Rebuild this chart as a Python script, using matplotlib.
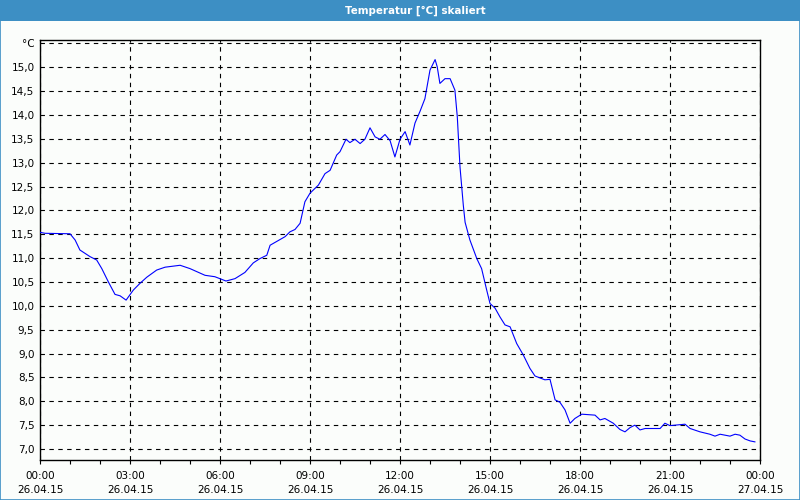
import numpy as np
import matplotlib
matplotlib.use("Agg")
import matplotlib.pyplot as plt
from matplotlib.patches import Rectangle

# hours since 26.04.15 00:00 and temperature in degC
hours = [0.00, 0.17, 1.00, 1.17, 1.33, 1.67, 1.89, 2.06, 2.28, 2.50, 2.67, 2.87,
         3.11, 3.33, 3.56, 3.89, 4.17, 4.67, 5.00, 5.50, 5.83, 6.20, 6.50, 6.83,
         7.11, 7.33, 7.56, 7.67, 8.17, 8.33, 8.50, 8.67, 8.83, 9.00, 9.28, 9.50,
         9.67, 9.89, 10.00, 10.20, 10.33, 10.50, 10.67, 10.83, 11.00, 11.17, 11.33,
         11.50, 11.67, 11.83, 12.00, 12.17, 12.33, 12.50, 12.67, 12.83, 13.00,
         13.17, 13.24, 13.33, 13.50, 13.67, 13.83, 13.91, 14.00, 14.11, 14.17,
         14.33, 14.56, 14.72, 14.89, 15.00, 15.17, 15.33, 15.50, 15.67, 15.89,
         16.11, 16.33, 16.50, 16.83, 17.00, 17.17, 17.33, 17.50, 17.67, 17.83,
         18.06, 18.50, 18.67, 18.83, 19.11, 19.33, 19.50, 19.67, 19.83, 20.00,
         20.17, 20.67, 20.83, 21.00, 21.50, 21.67, 22.00, 22.33, 22.50, 22.67,
         23.00, 23.17, 23.33, 23.50, 23.67, 23.83]
temps = [11.54, 11.52, 11.51, 11.38, 11.17, 11.03, 10.96, 10.78, 10.50, 10.24, 10.21, 10.12,
         10.33, 10.47, 10.60, 10.75, 10.81, 10.85, 10.78, 10.64, 10.61, 10.52, 10.57, 10.70,
         10.90, 10.99, 11.06, 11.27, 11.45, 11.55, 11.60, 11.73, 12.18, 12.36, 12.53, 12.77,
         12.84, 13.16, 13.23, 13.49, 13.42, 13.49, 13.40, 13.49, 13.73, 13.54, 13.49,
         13.59, 13.46, 13.12, 13.49, 13.65, 13.37, 13.83, 14.08, 14.34, 14.94,
         15.16, 15.01, 14.66, 14.76, 14.76, 14.52, 13.96, 12.91, 12.11, 11.75,
         11.38, 10.99, 10.78, 10.33, 10.05, 9.95, 9.77, 9.60, 9.56, 9.21,
         8.97, 8.69, 8.53, 8.45, 8.46, 8.03, 7.98, 7.82, 7.54, 7.64,
         7.73, 7.71, 7.61, 7.64, 7.54, 7.41, 7.36, 7.45, 7.50, 7.40,
         7.43, 7.43, 7.54, 7.49, 7.52, 7.43, 7.36, 7.31, 7.27, 7.31,
         7.27, 7.31, 7.29, 7.21, 7.17, 7.15]

x_ticks = [0, 3, 6, 9, 12, 15, 18, 21, 24]
x_labels = ["00:00\n26.04.15", "03:00\n26.04.15", "06:00\n26.04.15", "09:00\n26.04.15",
            "12:00\n26.04.15", "15:00\n26.04.15", "18:00\n26.04.15", "21:00\n26.04.15",
            "00:00\n27.04.15"]
y_ticks = [7.0, 7.5, 8.0, 8.5, 9.0, 9.5, 10.0, 10.5, 11.0, 11.5, 12.0, 12.5, 13.0,
           13.5, 14.0, 14.5, 15.0, 15.5]
y_labels = ["7,0", "7,5", "8,0", "8,5", "9,0", "9,5", "10,0", "10,5", "11,0", "11,5",
            "12,0", "12,5", "13,0", "13,5", "14,0", "14,5", "15,0", "°C"]

bg = "#fbfdfb"
bar_blue = "#3d8fc4"

plt.rcParams['font.family'] = ['DejaVu Sans']
fig = plt.figure(figsize=(8, 5), dpi=100, facecolor=bg)

# title bar + window border
fig.patches.append(Rectangle((0, 1 - 21 / 500), 1, 21 / 500, transform=fig.transFigure,
                             facecolor=bar_blue, edgecolor="none", zorder=0))
fig.patches.append(Rectangle((0.0006, 0.001), 0.9988, 0.998, transform=fig.transFigure,
                             facecolor="none", edgecolor=bar_blue, lw=1.2, zorder=0))
fig.text(415 / 800, 1 - 10.5 / 500, "Temperatur [°C] skaliert", color="white",
         fontsize=7.4, fontweight="bold", ha="center", va="center")

ax = fig.add_axes([40 / 800, 40 / 500, 720 / 800, 420 / 500])
ax.set_facecolor(bg)
ax.plot(hours, temps, color="#0000ff", lw=0.8, zorder=3)

ax.set_xlim(0, 24)
ax.set_ylim(6.77, 15.57)

ax.set_xticks(x_ticks)
ax.set_xticklabels(x_labels, fontsize=7.5, linespacing=1.45)
ax.set_xticks(np.arange(0, 25, 1), minor=True)
ax.tick_params(axis="x", which="both", direction="out", length=3, width=0.8, pad=5)
ax.set_yticks(y_ticks)
ax.set_yticklabels(y_labels, fontsize=7.5)
ax.tick_params(axis="y", length=0, pad=4)

ax.grid(True, color="black", linestyle=(0, (4, 4)), lw=0.8)
for s in ax.spines.values():
    s.set_linewidth(1.0)

fig.savefig("out.png", dpi=100, facecolor=bg)
